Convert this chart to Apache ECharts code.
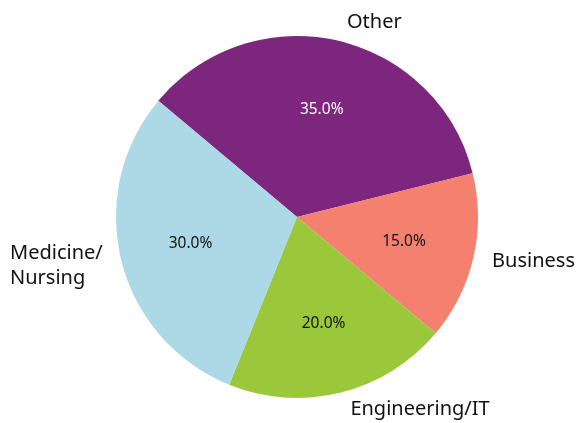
<!DOCTYPE html>
<html>
<head>
<meta charset="utf-8">
<script src="https://cdn.jsdelivr.net/npm/echarts@6/dist/echarts.min.js"></script>
<style>
  html, body { margin: 0; padding: 0; background: #fff; }
  #main { width: 576px; height: 423px; }
</style>
</head>
<body>
<div id="main"></div>
<script>
var categories = ['Other', 'Business', 'Engineering/IT', 'Medicine/\nNursing'];
var shares = [35, 15, 20, 30];
var colors = ['#7d267d', '#f4806f', '#9bc83a', '#add8e6'];
var labelColors = ['#ffffff', '#111111', '#111111', '#111111'];

var R = 181;

var pieData = categories.map(function (name, i) {
  return { name: name, value: shares[i], itemStyle: { color: colors[i] } };
});

// percent labels sit at 0.6 R, so use a clear pie of 1.2 R whose middle is there
var pctData = categories.map(function (name, i) {
  return { name: name, value: shares[i], label: { color: labelColors[i] } };
});

var outerData = categories.map(function (name, i) {
  return { name: name, value: shares[i] };
});

var myChart = echarts.init(document.getElementById('main'));
var option = {
    animation: false,
    series: [{
        type: 'pie',
        radius: R,
        center: [297, 217],
        startAngle: 140,
        silent: true,
        data: pieData,
        label: { show: false },
        labelLine: { show: false }
    }, {
        type: 'pie',
        radius: [0, R * 1.18],
        center: [297, 217],
        startAngle: 140,
        silent: true,
        data: pctData,
        itemStyle: { color: 'rgba(0,0,0,0)' },
        label: {
            show: true,
            position: 'inside',
            fontFamily: 'Noto Sans',
            fontSize: 15.5,
            formatter: function (p) {
                return p.percent.toFixed(1) + '%';
            }
        },
        labelLine: { show: false }
    }, {
        type: 'pie',
        radius: R,
        center: [297, 217],
        startAngle: 140,
        silent: true,
        data: outerData,
        itemStyle: { color: 'rgba(0,0,0,0)' },
        label: {
            show: true,
            position: 'outside',
            overflow: 'none',
            color: '#111',
            fontFamily: 'Noto Sans',
            fontSize: 20,
            lineHeight: 25,
            formatter: function (p) {
                return p.name.split('\n').map(function (s) {
                    return '{a|' + s + '}';
                }).join('\n');
            },
            rich: {
                a: { fontFamily: 'Noto Sans', fontSize: 20, lineHeight: 25, color: '#111', align: 'left' }
            }
        },
        labelLine: { show: false, length: 19, length2: 0 }
    }]
};
myChart.setOption(option);
</script>
</body>
</html>
